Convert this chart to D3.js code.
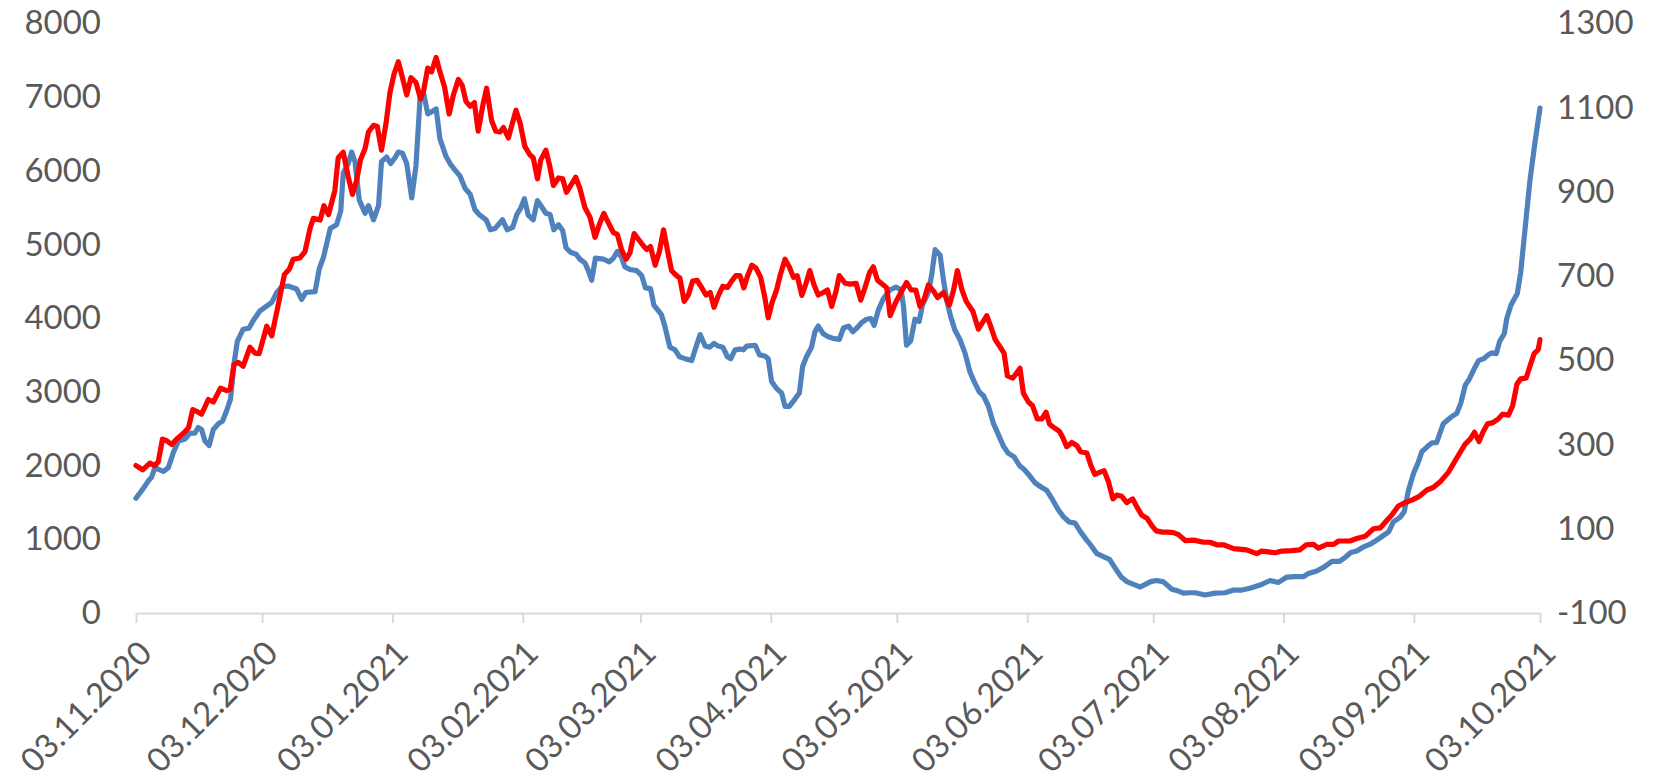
<!DOCTYPE html>
<html><head><meta charset="utf-8">
<script src="https://cdn.jsdelivr.net/npm/d3@7"></script>
<style>
body{margin:0;background:#fff}
svg{display:block}
text{font-family:Lato,"Noto Sans",sans-serif;fill:#595959}
</style>
</head><body>
<svg id="chart" width="1669" height="780"></svg>
<script>
// ---- data ----
const startDay = Date.UTC(2020, 10, 3);
const endDay = Date.UTC(2021, 9, 3);
const xTickLabels = ["03.11.2020","03.12.2020","03.01.2021","03.02.2021","03.03.2021","03.04.2021","03.05.2021","03.06.2021","03.07.2021","03.08.2021","03.09.2021","03.10.2021"];
const leftTicks = [0,1000,2000,3000,4000,5000,6000,7000,8000];
const rightTicks = [-100,100,300,500,700,900,1100,1300];

// day offsets from 03.11.2020 and values (left axis)
const blueDays = [0,1.7,2.9,3.7,4.5,6.5,7.7,8.9,10.1,11.7,12.8,14,14.8,15.6,16.4,17.4,18.4,19.6,20.6,21.6,22.5,23.3,24.1,25.5,26.9,27.9,29.5,32.3,33.5,34.7,36.2,38.2,39.4,40.4,42.6,43.6,44.6,46.2,47.7,48.7,49.3,50.5,51.3,52.1,53.1,54.5,55.3,56.5,57.7,58.4,59.6,60.6,61.6,62.4,63.4,64.4,65.6,66.6,67.6,68.4,69.4,70.3,71.4,72.3,73.7,74.7,75.9,77.1,78.3,79.5,80.6,81.8,83.3,84.3,85.4,87.2,88.3,89.6,90.6,91.5,92.4,93.3,94.5,95.5,96.5,97.5,98.5,99.4,100.5,101.5,102.3,103.4,104.7,105.6,106.8,107.6,108.4,109.3,111.2,112.6,113.6,114.5,115.5,116.3,117.5,119.1,120.3,121.2,122.4,123.2,125,125.8,127,128.2,129.3,130.6,132.2,133.2,134.2,135.4,136.5,137.5,138.5,139.6,140.7,141.5,142.5,143.7,144.5,145.3,147.3,148.3,149.6,150.4,151.2,152.3,153.6,154.4,155.4,156.8,157.8,158.6,159.5,160.7,161.5,162.3,163.5,164.7,165.9,167.3,168.3,169.5,170.5,171.5,172.7,173.8,174.8,175.6,176.6,177.8,179.4,180.8,182,182.6,183.3,184.3,185.3,186.3,187.1,188.5,189.3,190.1,191.3,192.1,192.9,193.8,194.8,196,197.2,198.4,199.4,200.6,201.6,202.8,204,205.2,206.4,207.5,208.9,210.2,211.3,212.5,213.9,215.2,216.7,218.1,219.4,220.6,222,223.4,224.7,226.2,227.1,228.6,230,231.6,232.9,234.3,235.7,237.3,238.9,240.1,241.4,242.7,244.3,245.4,246.4,247.8,249.2,250.6,252,254.3,256.7,259.1,261.1,263.1,265,267.4,269.8,271.8,273.8,275.7,277.7,278.9,280.9,282.6,284.5,286.3,287.6,289,290.4,291.9,293.6,294.8,296.4,298,299.1,300.7,301.7,302.7,303.9,304.9,305.9,307.2,308.3,309.4,311,312.8,314.2,315.2,316.2,317.2,318.2,319.4,320.6,321.7,322.5,323.6,324.4,325.5,326.1,327.1,328.6,329.4,330.5,331.6,332.8,334];
const blueValues = [1557,1687,1790,1842,1972,1920,1972,2180,2335,2361,2439,2439,2517,2491,2335,2273,2491,2569,2605,2751,2906,3373,3685,3851,3866,3970,4100,4214,4349,4427,4437,4396,4256,4349,4360,4671,4827,5216,5268,5450,5969,6098,6254,6124,5605,5424,5527,5335,5527,6124,6186,6098,6176,6254,6238,6098,5631,6072,7007,7058,6773,6799,6840,6436,6202,6098,6010,5927,5761,5683,5475,5398,5335,5200,5216,5335,5200,5231,5408,5491,5621,5398,5335,5595,5512,5424,5408,5200,5268,5190,4956,4894,4868,4801,4749,4645,4515,4816,4801,4764,4816,4905,4827,4697,4661,4645,4578,4411,4401,4178,4048,3893,3607,3571,3477,3451,3425,3607,3778,3622,3607,3659,3622,3607,3477,3451,3571,3581,3571,3622,3633,3503,3488,3451,3140,3052,2984,2803,2803,2906,2984,3348,3477,3607,3815,3893,3789,3747,3726,3711,3867,3893,3815,3867,3944,3986,3996,3903,4110,4266,4386,4422,4386,4152,3633,3695,3986,3955,4178,4349,4593,4930,4853,4515,4230,4022,3841,3711,3529,3270,3140,3000,2948,2803,2569,2413,2258,2169,2118,1998,1946,1868,1765,1713,1661,1531,1401,1308,1235,1220,1100,986,924,804,768,727,612,493,426,389,353,389,426,441,426,374,322,301,270,275,275,244,270,275,311,311,337,379,441,415,488,493,493,535,571,623,701,701,753,820,841,893,934,976,1038,1100,1235,1298,1375,1661,1894,2024,2190,2258,2310,2310,2569,2657,2709,2855,3088,3176,3296,3425,3451,3503,3529,3519,3685,3789,3996,4178,4334,4619,5242,5865,6384,6850];

// day offsets from 03.11.2020 and values (right axis)
const redDays = [0,1.6,3.3,4.5,5.3,6.3,7.3,8.5,9.7,11.3,12.5,13.5,14.4,15.6,17.2,18.4,20.1,21.6,22.4,23.3,24.3,25.5,27.1,28.3,29.3,31.1,32.3,33.9,35.3,36.5,37.4,39,40.2,41.4,42.2,43.8,44.7,45.8,46.5,47.3,48.1,49.3,50.5,51.5,52.5,53.4,54.5,55.3,56.5,57.4,58.4,59.5,60.4,61.4,62.4,63.4,64.4,65.4,66.6,67.7,68.4,69.4,70.3,71.4,72.3,73.4,74.5,75.5,76.7,77.6,78.5,79.5,80.5,81.4,82.5,83.4,84.6,85.6,86.6,87.4,88.6,89.4,90.4,91.4,92.5,93.7,94.5,95.5,96.3,97.5,98.5,99.3,100.5,101.5,102.4,103.4,104.6,105.6,106.8,108,109.2,110.2,111.3,112.4,113.6,114.5,115.5,116.6,117.5,118.5,119.7,120.7,121.5,122.4,123.5,124.5,125.5,126.4,127.4,128.6,129.4,130.4,131.4,132.4,133.5,134.6,135.6,136.6,137.5,138.5,139.6,140.7,141.7,142.7,143.7,144.6,145.5,146.5,147.5,148.6,149.6,150.4,151.4,152.4,153.3,154.4,155.4,156.4,157.3,158.4,159.4,160.3,161.3,162.3,163.5,164.5,165.5,166.5,167.3,168.7,169.9,171.3,172.4,173.4,174.5,175.4,176.4,177.8,178.6,179.4,180.6,181.8,183.3,184.4,185.5,186.5,187.5,188.5,189.7,190.7,192.1,193.5,194.5,195.4,196.5,197.5,199.1,200.4,201.4,202.4,203.3,204.4,205.6,206.5,207.3,208.6,210.3,211.1,212.3,213.3,214.4,215.5,216.5,217.3,218.4,219.7,220.5,221.4,222.6,223.8,224.7,226.2,227.1,228.1,229.2,230.3,231.3,232.4,233.3,234.5,235.7,237.1,238.2,239.3,240.5,241.7,242.7,244.1,245.4,246.8,248,249.6,251.6,254,255.5,257.1,258.7,261.1,264.2,266.6,267.8,269.4,271,272.6,274.9,276.9,278.4,280.1,281.3,283.3,284.9,286.1,288.8,290.4,292.4,294.4,296,297.6,298.7,300.3,301.9,303.5,305.3,307.1,308.6,310.4,312.2,314.2,316.2,317.4,318.4,319.5,320.5,321.5,322.8,324.1,325.1,326.5,327.5,328.5,329.4,330.7,331.8,332.6,333.6,334];
const redValues = [250,240,256,250,259,313,309,300,313,327,340,383,379,372,407,401,434,428,431,490,495,486,531,517,516,581,558,635,704,717,740,743,758,813,837,833,867,846,873,903,981,994,935,894,928,976,1003,1042,1058,1055,999,1064,1135,1180,1209,1171,1130,1171,1160,1121,1139,1194,1185,1219,1185,1149,1085,1130,1167,1153,1115,1103,1112,1044,1105,1146,1069,1044,1042,1053,1028,1058,1094,1062,1008,988,981,931,976,999,958,915,933,931,899,915,935,908,862,840,792,822,849,826,803,799,763,740,755,801,785,772,763,770,726,758,810,763,713,701,695,640,655,688,690,672,655,661,626,653,676,673,688,701,701,672,701,726,719,697,649,601,640,667,704,740,722,697,701,654,683,713,679,655,661,667,628,663,701,683,681,683,643,672,708,722,690,679,672,606,635,658,685,667,667,628,645,679,665,649,661,631,667,713,667,640,616,574,590,606,581,549,531,517,463,458,481,422,401,392,361,361,377,349,340,331,316,295,305,298,283,280,252,229,234,238,213,171,180,177,162,171,150,132,125,107,95,92,92,91,86,72,73,68,68,62,62,53,50,41,47,45,43,47,48,50,62,63,54,63,63,71,71,77,82,100,102,120,132,154,162,168,177,192,198,213,234,268,301,313,329,307,331,349,352,361,372,370,392,443,456,458,492,516,526,549];

// ---- chart ----
const dayToDate = d => new Date(startDay + d * 864e5);
const parseLabel = s => { const [dd, mm, yy] = s.split(".").map(Number); return new Date(Date.UTC(yy, mm - 1, dd)); };
const plainNum = d => String(d);

const svg = d3.select("#chart");
const x = d3.scaleUtc().domain([new Date(startDay), new Date(endDay)]).range([136, 1540]);
const yL = d3.scaleLinear().domain([0, 8000]).range([613, 23.4]);
const yR = d3.scaleLinear().domain([-100, 1300]).range([613, 23.4]);
const FS = 33;

// left axis
const gl = svg.append("g").attr("transform", "translate(110,0)")
  .call(d3.axisLeft(yL).tickValues(leftTicks).tickSize(0).tickPadding(9).tickFormat(plainNum));
gl.select(".domain").remove();
gl.selectAll("text").attr("font-size", FS).attr("font-family", null).style("fill", "#595959");

// right axis
const gr = svg.append("g").attr("transform", "translate(1548,0)")
  .call(d3.axisRight(yR).tickValues(rightTicks).tickSize(0).tickPadding(9).tickFormat(plainNum));
gr.select(".domain").remove();
gr.selectAll("text").attr("font-size", FS).attr("font-family", null).style("fill", "#595959");

// bottom axis
const tickDates = xTickLabels.map(parseLabel);
const gx = svg.append("g").attr("transform", "translate(0,613)")
  .call(d3.axisBottom(x).tickValues(tickDates).tickSize(10).tickSizeOuter(0)
    .tickFormat((d, i) => xTickLabels[i]));
gx.select(".domain").attr("stroke", "#d9d9d9").attr("stroke-width", 2);
gx.selectAll(".tick line").attr("stroke", "#d9d9d9").attr("stroke-width", 2);
gx.selectAll(".tick text")
  .attr("font-size", FS).attr("font-family", null).style("fill", "#595959")
  .attr("text-anchor", "end")
  .attr("x", 0).attr("y", 0).attr("dy", "0.35em")
  .attr("transform", "translate(9,34) rotate(-45)");

// lines
const lineL = d3.line().x((d, i) => x(dayToDate(blueDays[i]))).y(d => yL(d)).curve(d3.curveLinear);
const lineR = d3.line().x((d, i) => x(dayToDate(redDays[i]))).y(d => yR(d)).curve(d3.curveLinear);

svg.append("path").datum(blueValues).attr("d", lineL)
  .attr("fill", "none").attr("stroke", "#4f81bd").attr("stroke-width", 5.2)
  .attr("stroke-linejoin", "round").attr("stroke-linecap", "round");
svg.append("path").datum(redValues).attr("d", lineR)
  .attr("fill", "none").attr("stroke", "#ff0000").attr("stroke-width", 5.2)
  .attr("stroke-linejoin", "round").attr("stroke-linecap", "round");
</script>
</body></html>
